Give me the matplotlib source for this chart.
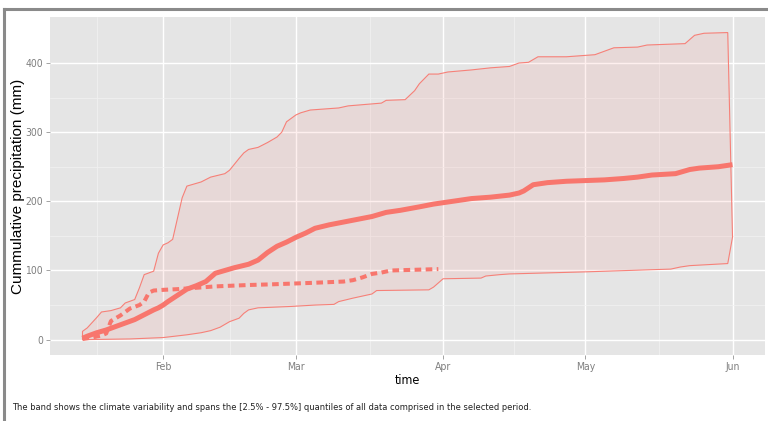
import datetime as dt
import matplotlib
matplotlib.use("Agg")
import matplotlib.pyplot as plt
import matplotlib.dates as mdates
from matplotlib.lines import Line2D
from matplotlib.ticker import FixedLocator

# ---- data (day offsets from the start date, cumulative precipitation in mm) ----
start = dt.date(2015, 1, 15)

upper_days = [0, 1, 3, 4, 6, 8, 9, 11, 12, 13, 15, 16, 17, 18, 19, 20, 21, 22, 24, 25,
              27, 30, 31, 33, 34, 35, 37, 39, 41, 42, 43, 45, 46, 48, 54, 56, 63, 64, 68,
              70, 71, 73, 75, 77, 82, 86, 90, 92, 94, 96, 102, 108, 112, 117, 119, 127,
              129, 131, 136, 137]
upper_vals = [12, 17, 32, 40, 42, 46, 53, 58, 75, 94, 99, 125, 137, 140, 145, 175, 205,
              222, 226, 228, 235, 240, 245, 262, 270, 275, 278, 285, 293, 300, 315, 325,
              328, 332, 335, 338, 342, 346, 347, 360, 370, 384, 384, 387, 390, 393, 395,
              400, 401, 409, 409, 412, 422, 423, 426, 428, 440, 443, 444, 150]

lower_days = [0, 10, 17, 22, 25, 27, 29, 31, 33, 34, 35, 37, 44, 49, 53, 54, 57, 59, 61,
              62, 73, 74, 75, 76, 84, 85, 88, 90, 106, 124, 126, 128, 136, 137]
lower_vals = [0, 1, 3, 7, 10, 13, 18, 26, 31, 38, 43, 46, 48, 50, 51, 55, 60, 63, 66, 71,
              72, 76, 82, 88, 89, 92, 94, 95, 98, 102, 105, 107, 110, 148]

median_days = [0, 1, 3, 5, 7, 9, 11, 13, 15, 16, 17, 18, 20, 22, 24, 26, 28, 30, 32, 35,
               37, 39, 41, 43, 45, 47, 49, 52, 55, 58, 61, 64, 67, 71, 74, 78, 82, 86, 90,
               92, 93, 95, 98, 102, 106, 110, 114, 117, 120, 125, 128, 130, 134, 137]
median_vals = [2, 5, 10, 14, 19, 24, 29, 36, 43, 46, 50, 55, 64, 73, 78, 84, 96, 100, 104,
               109, 115, 126, 135, 141, 148, 154, 161, 166, 170, 174, 178, 184, 187, 192,
               196, 200, 204, 206, 209, 212, 215, 224, 227, 229, 230, 231, 233, 235, 238,
               240, 246, 248, 250, 253]

obs_days = [0, 2, 4, 5, 6, 8, 10, 12, 13, 14, 15, 17, 20, 24, 28, 35, 40, 44, 48, 55, 57,
            59, 61, 63, 65, 70, 75]
obs_vals = [1, 3, 6, 9, 27, 35, 45, 50, 55, 68, 71, 72, 73, 75, 77, 79, 80, 81, 82, 84,
            86, 90, 95, 97, 100, 101, 102]

month_ticks = ["2015-02-01", "2015-03-01", "2015-04-01", "2015-05-01", "2015-06-01"]
month_labels = ["Feb", "Mar", "Apr", "May", "Jun"]
y_ticks = [0, 100, 200, 300, 400]

# ---- styling ----
RED = "#F8766D"
PANEL = "#E5E5E5"
MINOR = "#F2F2F2"
GREY50 = "#7F7F7F"

narrow = dict(family="DejaVu Sans", stretch="condensed")
regular = dict(family="Liberation Sans")


def to_dates(days):
    return [mdates.date2num(start + dt.timedelta(days=d)) for d in days]


fig = plt.figure(figsize=(7.68, 4.21), dpi=100)
ax = fig.add_axes([50 / 768, 1 - 355 / 421, 715 / 768, 338 / 421])
ax.set_facecolor(PANEL)
for s in ax.spines.values():
    s.set_visible(False)

xu, xl = to_dates(upper_days), to_dates(lower_days)
xm, xo = to_dates(median_days), to_dates(obs_days)

# ribbon: upper edge forward, lower edge back
poly_x = xu + xl[::-1]
poly_y = upper_vals + lower_vals[::-1]
ax.fill(poly_x, poly_y, facecolor=RED, alpha=0.11, edgecolor="none", zorder=2)
ax.fill(poly_x, poly_y, facecolor="none", edgecolor=RED, linewidth=0.8, alpha=0.9,
        zorder=3)

ax.plot(xm, median_vals, color=RED, linewidth=3.6, solid_capstyle="butt",
        solid_joinstyle="round", zorder=4)
obs_line, = ax.plot(xo, obs_vals, color=RED, linewidth=2.9, dash_capstyle="butt",
                    zorder=4)
obs_line.set_dashes((1.65, 1.1))

# axes limits with ggplot-style expansion
x0, x1 = mdates.date2num(start), mdates.date2num(start + dt.timedelta(days=137))
pad = (x1 - x0) * 0.05
ax.set_xlim(x0 - pad, x1 + pad)
ax.set_ylim(-22.2, 466.5)

major_x = [mdates.datestr2num(t) for t in month_ticks]
minor_x = [mdates.date2num(dt.date(2015, 1, 18))] + \
          [(a + b) / 2 for a, b in zip(major_x[:-1], major_x[1:])]
ax.xaxis.set_major_locator(FixedLocator(major_x))
ax.xaxis.set_minor_locator(FixedLocator(minor_x))
ax.set_xticklabels(month_labels)
ax.yaxis.set_major_locator(FixedLocator(y_ticks))
ax.yaxis.set_minor_locator(FixedLocator([50, 150, 250, 350]))

ax.grid(which="major", color="white", linewidth=1.0, zorder=0)
ax.grid(which="minor", color=MINOR, linewidth=0.5, zorder=0)
ax.set_axisbelow(True)

ax.tick_params(which="major", length=3, width=0.5, color=GREY50, labelcolor=GREY50,
               labelsize=7.5, pad=2)
ax.tick_params(which="minor", length=0)
for lab in ax.get_xticklabels() + ax.get_yticklabels():
    lab.set_family(narrow["family"])
    lab.set_stretch(narrow["stretch"])

ax.set_xlabel("time", fontsize=9, color="black", **narrow)
ax.xaxis.set_label_coords(0.5, -(381 - 355) / 338)
ax.xaxis.label.set_va("center")
ax.set_ylabel("Cummulative precipitation (mm)", fontsize=11, color="black", **regular)
ax.yaxis.set_label_coords(-(50 - 18) / 715, 0.5)
ax.yaxis.label.set_va("center")

fig.text(12 / 768, 1 - 407 / 421,
         "The band shows the climate variability and spans the [2.5% - 97.5%] "
         "quantiles of all data comprised in the selected period.",
         fontsize=6.7, color="#222222", va="center", ha="left", **narrow)

# frame around the widget
frame_kw = dict(color="#8A8A8A", linewidth=2.2, transform=fig.transFigure)
fig.add_artist(Line2D([4 / 768, 1.0], [1 - 9 / 421, 1 - 9 / 421], **frame_kw))
fig.add_artist(Line2D([4 / 768, 4 / 768], [1 - 9 / 421, 0.0], **frame_kw))

fig.savefig("out.png", dpi=100, facecolor="white")
